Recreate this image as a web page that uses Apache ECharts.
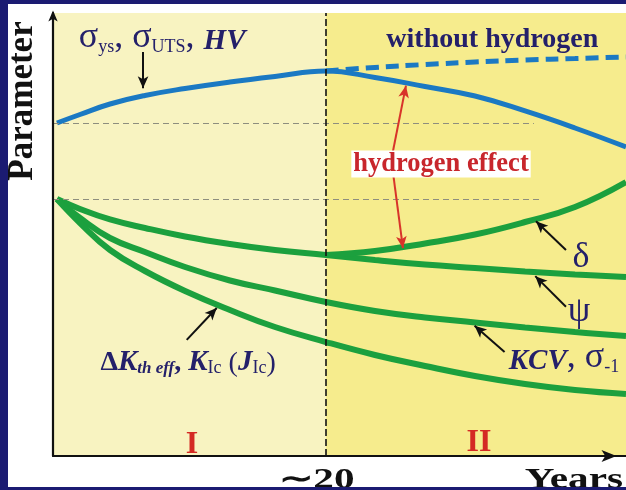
<!DOCTYPE html>
<html>
<head>
<meta charset="utf-8">
<script src="https://cdn.jsdelivr.net/npm/echarts@6/dist/echarts.min.js"></script>
<style>
html,body{margin:0;padding:0;width:626px;height:490px;background:#1b1b72;overflow:hidden;}
#chart{position:absolute;left:8px;top:4px;width:618px;height:483px;background:#ffffff;}
</style>
</head>
<body>
<div id="chart"></div>
<script>
// ---- data ----
const years = [0.29, 1.98, 4.18, 6.74, 9.68, 12.97, 16.27, 20.0, 23.6, 27.27, 30.93, 34.6, 38.26, 42.0];
const stage2Years = [20.0, 23.6, 27.27, 30.93, 34.6, 38.26, 42.0];
const sigmaY = [75.17, 77.09, 79.46, 81.38, 82.96, 84.42, 85.67, 86.91, 85.44, 83.41, 81.26, 77.88, 74.04, 69.75];
const noHydrogenY = [86.91, 87.70, 88.37, 88.94, 89.39, 89.73, 90.07];
const psiY = [58.01, 55.76, 53.39, 51.47, 49.55, 47.86, 46.5, 45.37, 44.24, 43.23, 42.44, 41.65, 40.97, 40.41];
const deltaY = [45.37, 46.28, 47.97, 50.0, 52.82, 56.21, 61.85];
const kcvY = [58.01, 53.72, 49.21, 46.05, 42.66, 39.62, 37.36, 34.76, 32.73, 31.26, 30.14, 29.01, 27.99, 27.09];
const dkY = [58.01, 52.6, 46.5, 41.76, 37.25, 32.96, 29.12, 25.73, 22.8, 20.32, 18.06, 16.25, 14.9, 14.0];
const refLevels = [75.17, 58.01];
const refEnds = [35.25, 35.8];
const stageBoundary = 20;
const xMax = 42;
const tickLabels = ['\u223C20'];
const axisNames = ['Years', 'Parameter'];
const stageLabels = ['I', 'II'];

const pairs = (xs, ys) => xs.map((x, i) => [x, ys[i]]);
const NAVY = '#24206a';
const SERIF = '"Liberation Serif", "Times New Roman", serif';

const chart = echarts.init(document.getElementById('chart'), null, {renderer: 'canvas'});

const lineSeries = (name, xs, ys, color, width, type) => ({
  name, type: 'line', data: pairs(xs, ys), smooth: 0.45, symbol: 'none',
  lineStyle: {color, width, type: type || 'solid', cap: 'butt'},
  z: 3, animation: false, silent: true
});

const arrow = (from, to, color) => [
  {coord: from, symbol: 'none'},
  {coord: to, symbol: 'arrow', symbolSize: [8, 12], lineStyle: {color: color || '#111', width: 2, type: 'solid'}}
];

const label = (coord, formatter, rich, extra) => ({
  coord, symbol: 'rect', symbolSize: 1, itemStyle: {color: 'rgba(0,0,0,0)'},
  label: Object.assign({show: true, position: 'inside', formatter, rich, align: 'center', verticalAlign: 'middle'}, extra || {})
});

const richBase = {
  g: {fontFamily: SERIF, fontSize: 36, color: NAVY, verticalAlign: 'bottom', lineHeight: 32},
  sb: {fontFamily: SERIF, fontSize: 18, color: NAVY, verticalAlign: 'bottom', lineHeight: 19},
  bi: {fontFamily: SERIF, fontSize: 29, fontWeight: 'bold', fontStyle: 'italic', color: NAVY, verticalAlign: 'bottom', lineHeight: 32},
  b: {fontFamily: SERIF, fontSize: 28, fontWeight: 'bold', color: NAVY, verticalAlign: 'bottom', lineHeight: 32},
  r: {fontFamily: SERIF, fontSize: 28, color: NAVY, verticalAlign: 'bottom', lineHeight: 32},
  si: {fontFamily: SERIF, fontSize: 17, fontStyle: 'italic', fontWeight: 'bold', color: NAVY, verticalAlign: 'bottom', lineHeight: 19}
};

chart.setOption({
  animation: false,
  grid: {left: 45, right: 0, top: 9, bottom: 31, containLabel: false, outerBoundsMode: 'none'},
  xAxis: {
    type: 'value', min: 0, max: xMax, z: 6,
    axisLine: {show: true, lineStyle: {color: '#111', width: 2.2}, symbol: ['none', 'arrow'], symbolSize: [9, 15], symbolOffset: [0, -9.5]},
    axisTick: {show: false}, splitLine: {show: false}, axisLabel: {show: false}
  },
  yAxis: {
    type: 'value', min: 0, max: 100, z: 6,
    axisLine: {show: true, lineStyle: {color: '#111', width: 2.2}, symbol: ['none', 'arrow'], symbolSize: [7, 11], symbolOffset: [0, 2.5]},
    axisTick: {show: false}, splitLine: {show: false}, axisLabel: {show: false}
  },
  series: [
    {
      name: 'zones', type: 'line', data: [], z: 1, silent: true,
      markArea: {
        silent: true,
        data: [
          [{xAxis: 0, itemStyle: {color: '#f8f3c1'}}, {xAxis: stageBoundary}],
          [{xAxis: stageBoundary, itemStyle: {color: '#f6ec8d'}}, {xAxis: xMax}]
        ]
      },
      markLine: {
        silent: true, symbol: 'none', label: {show: false},
        data: [
          [{coord: [0, refLevels[0]], lineStyle: {color: '#8e8e7e', width: 1, type: [6, 4]}}, {coord: [refEnds[0], refLevels[0]]}],
          [{coord: [0, refLevels[1]], lineStyle: {color: '#8e8e7e', width: 1, type: [6, 4]}}, {coord: [refEnds[1], refLevels[1]]}],
          [{coord: [stageBoundary, 0], lineStyle: {color: '#111', width: 1.6, type: [7, 3]}}, {coord: [stageBoundary, 100]}]
        ]
      }
    },
    lineSeries('σys, σUTS, HV', years, sigmaY, '#1b79c3', 5),
    lineSeries('without hydrogen', stage2Years, noHydrogenY, '#1b79c3', 5, [13, 7]),
    lineSeries('ψ', years, psiY, '#1ca03e', 6),
    lineSeries('δ', stage2Years, deltaY, '#1ca03e', 6),
    lineSeries('KCV, σ-1', years, kcvY, '#1ca03e', 6),
    lineSeries('ΔKth eff, KIc (JIc)', years, dkY, '#1ca03e', 6),
    {
      name: 'annotations', type: 'line', data: [], z: 10, silent: true,
      markLine: {
        silent: true, label: {show: false}, symbol: ['none', 'arrow'],
        lineStyle: {color: '#111', width: 2, type: 'solid'},
        data: [
          arrow([6.6, 91.2], [6.6, 83.0]),
          arrow([24.9, 68.5], [25.87, 83.6], '#d8342a'),
          arrow([24.9, 64.5], [25.65, 46.9], '#d8342a'),
          arrow([37.6, 46.5], [35.4, 53.0]),
          arrow([37.6, 33.7], [35.35, 40.6]),
          arrow([33.1, 23.5], [30.9, 29.4]),
          arrow([9.8, 26.2], [12.0, 33.4])
        ]
      },
      markPoint: {
        silent: true,
        data: [
          label([8.0, 93.9], '{g|σ}{sb|ys}{g|, σ}{sb|UTS}{g|, }{bi|HV}', richBase),
          label([32.2, 93.9], 'without hydrogen', null, {fontFamily: SERIF, fontSize: 28, fontWeight: 'bold', color: NAVY}),
          label([28.44, 65.9], 'hydrogen effect', null, {fontFamily: SERIF, fontSize: 26.5, fontWeight: 'bold', color: '#c8262c', backgroundColor: '#ffffff', padding: [0, 2, 0, 2]}),
          label([38.7, 44.7], 'δ', null, {fontFamily: SERIF, fontSize: 36, color: NAVY}),
          label([38.55, 32.5], 'ψ', null, {fontFamily: SERIF, fontSize: 36, color: NAVY}),
          label([37.45, 21.7], '{bi|KCV}{g|, σ}{sb|-1}', richBase),
          label([9.9, 21.4], '{b|Δ}{bi|K}{si|th eff}{b|, }{bi|K}{sb|Ic}{r| (}{bi|J}{sb|Ic}{r|)}', richBase),
          label([10.19, 2.5], stageLabels[0], null, {fontFamily: SERIF, fontSize: 32, fontWeight: 'bold', color: '#d42a24'}),
          label([31.22, 2.9], stageLabels[1], null, {fontFamily: SERIF, fontSize: 32, fontWeight: 'bold', color: '#d42a24'})
        ]
      }
    }
  ]
});

// axis captions (wide serif lettering as in the original), placed from the axis scale
const tickPx = chart.convertToPixel({xAxisIndex: 0}, stageBoundary);
const axisBottom = chart.convertToPixel({yAxisIndex: 0}, 0);
const axisRight = chart.convertToPixel({xAxisIndex: 0}, xMax);
const axisTop = chart.convertToPixel({yAxisIndex: 0}, 100);
chart.setOption({
  graphic: [
    {
      type: 'text', x: tickPx - 9, y: axisBottom + 10, scaleX: 1.42, z: 20,
      style: {text: tickLabels[0], font: 'bold 29px ' + SERIF, fill: '#111', align: 'center', verticalAlign: 'top'}
    },
    {
      type: 'text', x: axisRight - 3, y: axisBottom + 10, scaleX: 1.42, z: 20,
      style: {text: axisNames[0], font: 'bold 29px ' + SERIF, fill: '#111', align: 'right', verticalAlign: 'top'}
    },
    {
      type: 'text', x: 15, y: axisTop + 88, rotation: Math.PI / 2, z: 20,
      style: {text: axisNames[1], font: 'bold 35px ' + SERIF, fill: '#111', align: 'center', verticalAlign: 'middle'}
    }
  ]
});
</script>
</body>
</html>
